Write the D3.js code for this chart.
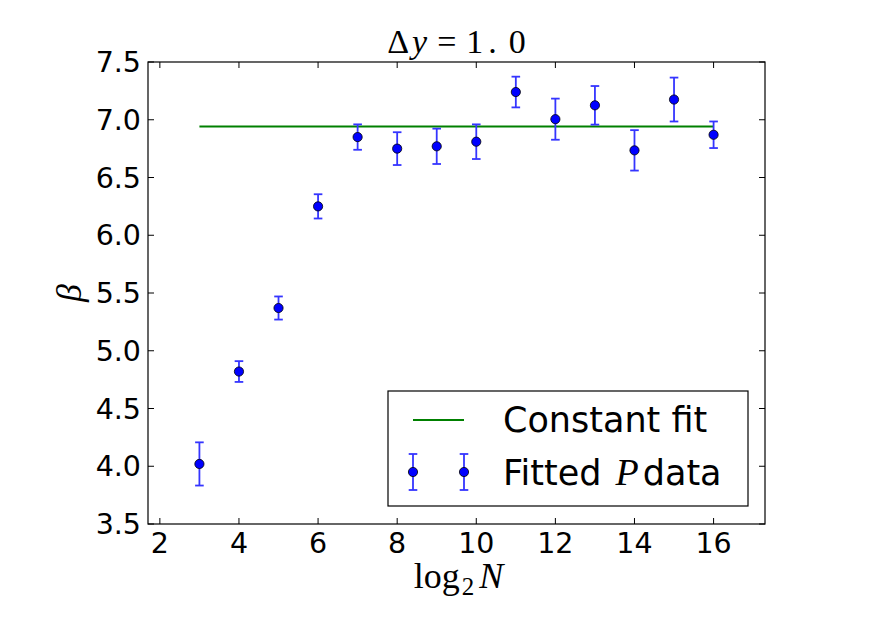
<!DOCTYPE html>
<html>
<head>
<meta charset="utf-8">
<script src="https://cdn.jsdelivr.net/npm/d3@7"></script>
<style>
  html, body { margin: 0; padding: 0; background: #fff; }
  svg { display: block; }
</style>
</head>
<body>
<svg id="chart" width="872" height="617"></svg>
<script>
// ---- data ----
const log2N = [3, 4, 5, 6, 7, 8, 9, 10, 11, 12, 13, 14, 15, 16];
const beta = [4.02, 4.82, 5.37, 6.25, 6.85, 6.75, 6.77, 6.81, 7.24, 7.005, 7.125, 6.735, 7.175, 6.87];
const betaErr = [0.187, 0.09, 0.10, 0.105, 0.11, 0.142, 0.153, 0.15, 0.133, 0.178, 0.167, 0.175, 0.19, 0.115];
const fitValue = 6.942;
const fitRange = [3, 16];
const xTicks = [2, 4, 6, 8, 10, 12, 14, 16];
const yTicks = [3.5, 4.0, 4.5, 5.0, 5.5, 6.0, 6.5, 7.0, 7.5];
const legendLabels = ["Constant fit", "Fitted", "P", "data"];

// ---- layout ----
const L = 148, R = 765, T = 62, B = 524;
const svg = d3.select("#chart");
const x = d3.scaleLinear().domain([1.7, 17.3]).range([L, R]);
const y = d3.scaleLinear().domain([3.5, 7.5]).range([B, T]);

const sans = "'DejaVu Sans', sans-serif";
const serif = "'Liberation Serif', 'DejaVu Serif', serif";
const tickLen = 6;
const tickFont = 28.5;

// frame
svg.append("rect").attr("x", L).attr("y", T).attr("width", R - L).attr("height", B - T)
  .attr("fill", "none").attr("stroke", "#000").attr("stroke-width", 1.2);

// ticks (inward on all four sides)
const tg = svg.append("g").attr("stroke", "#000").attr("stroke-width", 1);
xTicks.forEach(v => {
  tg.append("line").attr("x1", x(v)).attr("x2", x(v)).attr("y1", B).attr("y2", B - tickLen);
  tg.append("line").attr("x1", x(v)).attr("x2", x(v)).attr("y1", T).attr("y2", T + tickLen);
});
yTicks.forEach(v => {
  tg.append("line").attr("x1", L).attr("x2", L + tickLen).attr("y1", y(v)).attr("y2", y(v));
  tg.append("line").attr("x1", R).attr("x2", R - tickLen).attr("y1", y(v)).attr("y2", y(v));
});

// tick labels
svg.append("g").selectAll("text").data(xTicks).join("text")
  .attr("x", d => x(d)).attr("y", B + 29)
  .attr("text-anchor", "middle").attr("font-family", sans).attr("font-size", tickFont)
  .text(d => d);
svg.append("g").selectAll("text").data(yTicks).join("text")
  .attr("x", L - 7).attr("y", d => y(d) + 10)
  .attr("text-anchor", "end").attr("font-family", sans).attr("font-size", tickFont)
  .text(d => d3.format(".1f")(d));

// fit line
svg.append("line")
  .attr("x1", x(fitRange[0])).attr("x2", x(fitRange[1]))
  .attr("y1", y(fitValue)).attr("y2", y(fitValue))
  .attr("stroke", "#008000").attr("stroke-width", 2);

// error bars
const errColor = "#3535ff";
const cap = 4.3;
const eg = svg.append("g").attr("stroke", errColor).attr("stroke-width", 1.8);
log2N.forEach((n, i) => {
  const cx = x(n), y1 = y(beta[i] + betaErr[i]), y2 = y(beta[i] - betaErr[i]);
  eg.append("line").attr("x1", cx).attr("x2", cx).attr("y1", y1).attr("y2", y2);
  eg.append("line").attr("x1", cx - cap).attr("x2", cx + cap).attr("y1", y1).attr("y2", y1);
  eg.append("line").attr("x1", cx - cap).attr("x2", cx + cap).attr("y1", y2).attr("y2", y2);
});

// markers
svg.append("g").selectAll("circle").data(log2N).join("circle")
  .attr("cx", d => x(d)).attr("cy", (d, i) => y(beta[i])).attr("r", 4.6)
  .attr("fill", "#0000ff").attr("stroke", "#000").attr("stroke-width", 0.8);

// title
const title = svg.append("text").attr("x", (L + R) / 2).attr("y", 53)
  .attr("text-anchor", "middle").attr("font-family", serif).attr("font-size", 34);
title.append("tspan").text("Δ");
title.append("tspan").attr("dx", 3).attr("font-style", "italic").text("y");
title.append("tspan").attr("dx", 10).text("=");
title.append("tspan").attr("dx", 10).text("1");
title.append("tspan").attr("dx", 5).text(".");
title.append("tspan").attr("dx", 12).text("0");

// x label
const xl = svg.append("text").attr("x", (L + R) / 2 + 2).attr("y", 588)
  .attr("text-anchor", "middle").attr("font-family", serif).attr("font-size", 36);
xl.append("tspan").text("log");
xl.append("tspan").attr("font-size", 25).attr("dx", 2).attr("dy", 7).text("2");
xl.append("tspan").attr("font-style", "italic").attr("dx", 5).attr("dy", -7).text("N");

// y label
svg.append("text")
  .attr("transform", `translate(81, ${(T + B) / 2}) rotate(-90)`)
  .attr("text-anchor", "middle").attr("font-family", serif).attr("font-size", 36)
  .attr("font-style", "italic").text("β");

// legend
const lg = svg.append("g");
lg.append("rect").attr("x", 388).attr("y", 391).attr("width", 360).attr("height", 115)
  .attr("fill", "#fff").attr("stroke", "#000").attr("stroke-width", 1.2);
lg.append("line").attr("x1", 413).attr("x2", 464).attr("y1", 420).attr("y2", 420)
  .attr("stroke", "#008000").attr("stroke-width", 2);
[413, 464].forEach(cx => {
  const cy = 472, h = 18;
  lg.append("line").attr("x1", cx).attr("x2", cx).attr("y1", cy - h).attr("y2", cy + h)
    .attr("stroke", errColor).attr("stroke-width", 1.8);
  lg.append("line").attr("x1", cx - cap).attr("x2", cx + cap).attr("y1", cy - h).attr("y2", cy - h)
    .attr("stroke", errColor).attr("stroke-width", 1.8);
  lg.append("line").attr("x1", cx - cap).attr("x2", cx + cap).attr("y1", cy + h).attr("y2", cy + h)
    .attr("stroke", errColor).attr("stroke-width", 1.8);
  lg.append("circle").attr("cx", cx).attr("cy", cy).attr("r", 4.6)
    .attr("fill", "#0000ff").attr("stroke", "#000").attr("stroke-width", 0.8);
});
lg.append("text").attr("x", 503).attr("y", 432).attr("font-family", sans).attr("font-size", 35)
  .text(legendLabels[0]);
const l2 = lg.append("text").attr("x", 503).attr("y", 485).attr("font-family", sans).attr("font-size", 35);
l2.append("tspan").text(legendLabels[1]);
l2.append("tspan").attr("dx", 14).attr("font-family", serif).attr("font-size", 38)
  .attr("font-style", "italic").text(legendLabels[2]);
l2.append("tspan").attr("dx", 4).text(legendLabels[3]);
</script>
</body>
</html>
